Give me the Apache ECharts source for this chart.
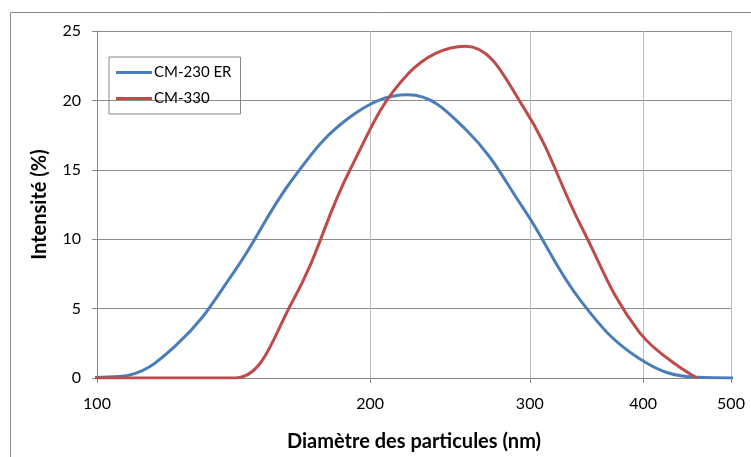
<!DOCTYPE html>
<html><head><meta charset="utf-8">
<script src="https://cdn.jsdelivr.net/npm/echarts@6/dist/echarts.min.js"></script>
<style>html,body{margin:0;padding:0;background:#fff}#c{width:751px;height:457px}</style>
</head><body><div id="c"></div>
<script>
// Particle diameter bins (nm)
const diameters = [91.28, 105.7, 122.4, 141.8, 164.2, 190.1, 220.2, 255.0, 295.3, 342.0, 396.1, 458.7, 531.2];
// Intensity (%)
const cm230 = [0, 0.1, 2.4, 7.7, 14.3, 18.8, 20.4, 17.9, 12.2, 5.5, 1.4, 0.05, 0];
const cm330 = [0, 0, 0, 0, 5.5, 15.0, 21.9, 23.9, 19.5, 10.9, 3.3, 0, null];
const xTicks = [100, 200, 300, 400, 500];
const yTicks = [0, 5, 10, 15, 20, 25];
const seriesNames = ['CM-230 ER', 'CM-330'];

const font = 'Lato';
const pair = (xs, ys) => xs.map((x, i) => [x, ys[i]]).filter(p => p[1] !== null);

const chart = echarts.init(document.getElementById('c'));
chart.setOption({
  animation: false,
  backgroundColor: '#fff',
  textStyle: { fontFamily: font },
  graphic: [{
    type: 'rect', left: 8, top: 10,
    shape: { width: 800, height: 500 },
    style: { fill: 'none', stroke: '#888', lineWidth: 1 },
    silent: true, z: -1
  }],
  grid: { left: 97, right: 20, top: 31, bottom: 79, containLabel: false },
  legend: {
    left: 109, top: 57, orient: 'vertical',
    data: seriesNames.map(n => ({ name: n, icon: 'rect' })),
    itemWidth: 36, itemHeight: 3, itemGap: 11,
    padding: [8, 9, 8, 7],
    borderColor: '#888', borderWidth: 1,
    textStyle: { fontFamily: font, fontSize: 15, color: '#000', padding: [0, 0, 0, -3] }
  },
  xAxis: {
    type: 'log', logBase: 10, min: 100, max: 500,
    name: 'Diamètre des particules (nm)', nameLocation: 'middle', nameGap: 54,
    nameTextStyle: { fontFamily: font, fontSize: 20, fontWeight: 'bold', color: '#000' },
    axisLine: { show: true, lineStyle: { color: '#868686', width: 1 } },
    axisTick: { show: true, inside: false, length: 5, customValues: xTicks, lineStyle: { color: '#868686' } },
    axisLabel: { customValues: xTicks, fontFamily: font, fontSize: 16, color: '#000', margin: 18 },
    splitLine: { show: true, lineStyle: { color: '#bdbdbd', width: 1 } },
    minorTick: { show: false }, minorSplitLine: { show: false }
  },
  yAxis: {
    type: 'value', min: 0, max: 25, interval: 5,
    name: 'Intensité (%)', nameLocation: 'middle', nameGap: 47,
    nameTextStyle: { fontFamily: font, fontSize: 20, fontWeight: 'bold', color: '#000' },
    axisLine: { show: true, lineStyle: { color: '#868686', width: 1 } },
    axisTick: { show: true, length: 5, lineStyle: { color: '#868686' } },
    axisLabel: { fontFamily: font, fontSize: 16, color: '#000', margin: 16,
      formatter: v => yTicks.includes(v) ? String(v) : '' },
    splitLine: { show: true, lineStyle: { color: '#8c8c8c', width: 1 } }
  },
  series: [
    { name: seriesNames[0], type: 'line', smooth: 0.4, showSymbol: false, clip: true,
      data: pair(diameters, cm230), lineStyle: { color: '#4a7ebb', width: 3 }, itemStyle: { color: '#4a7ebb' } },
    { name: seriesNames[1], type: 'line', smooth: 0.4, showSymbol: false, clip: true,
      data: pair(diameters, cm330), lineStyle: { color: '#be4b48', width: 3 }, itemStyle: { color: '#be4b48' } }
  ]
});
</script></body></html>
